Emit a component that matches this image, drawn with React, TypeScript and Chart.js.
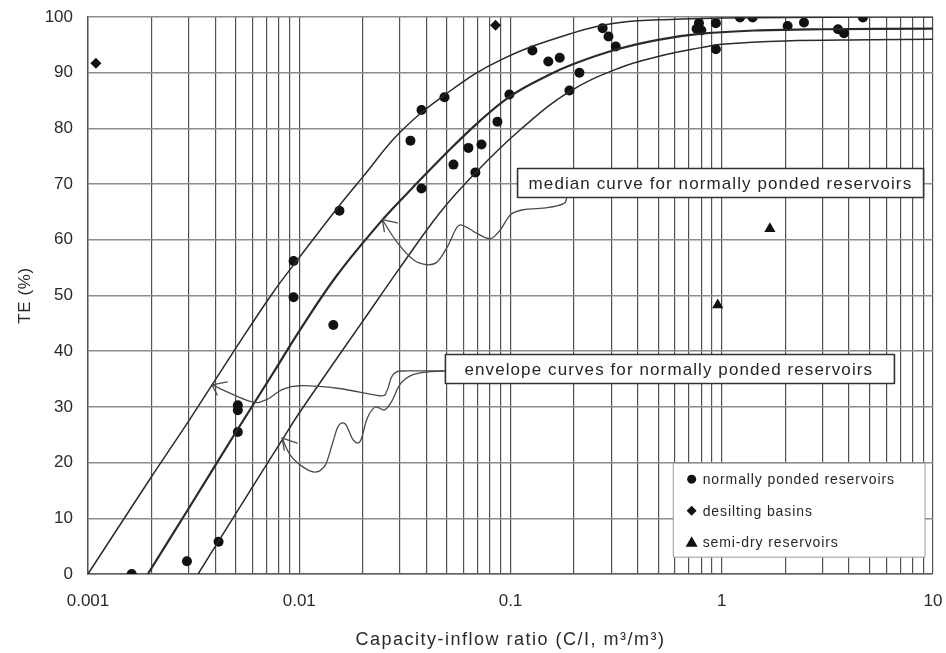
import { useEffect, useRef } from "react";
import { Chart, registerables } from "chart.js";

Chart.register(...registerables);

// Capacity-inflow ratio (C/I) and trap efficiency (TE, %) of the observed reservoirs
const pondedX = [0.00161, 0.00294, 0.00415, 0.00512, 0.00512, 0.00512, 0.0094, 0.0094, 0.0145, 0.0155, 0.0336, 0.0379, 0.0379, 0.0487, 0.0537, 0.0632, 0.0682, 0.0729, 0.0867, 0.0988, 0.127, 0.151, 0.171, 0.19, 0.212, 0.273, 0.291, 0.315, 0.76, 0.78, 0.8, 0.938, 0.938, 1.22, 1.4, 2.05, 2.45, 3.55, 3.79, 4.66];
const pondedY = [0, 2.3, 5.8, 25.5, 29.4, 30.3, 49.7, 56.2, 44.7, 65.2, 77.8, 83.3, 69.2, 85.6, 73.5, 76.5, 72.1, 77.1, 81.2, 86.1, 94.0, 92.0, 92.7, 86.8, 90.0, 98.0, 96.5, 94.7, 97.9, 98.9, 97.6, 98.9, 94.2, 99.9, 99.9, 98.4, 99.0, 97.8, 97.1, 99.9];

const desiltX = [0.00109, 0.0849];
const desiltY = [91.7, 98.5];

const semiDryX = [0.957, 1.69];
const semiDryY = [48.3, 62.0];

// Brune curves: upper envelope, median and lower envelope
const upperX = [0.001, 0.002, 0.003, 0.005, 0.0075, 0.01, 0.015, 0.02, 0.03, 0.05, 0.09, 0.2, 0.33, 0.6, 1, 2, 5, 10];
const upperY = [0, 17.5, 27.5, 40.5, 50.5, 56.8, 65.5, 71.3, 79.3, 86.3, 92.3, 97.2, 99.0, 99.6, 99.8, 99.9, 100, 100];

const medianX = [0.00192, 0.003, 0.005, 0.0075, 0.01, 0.015, 0.024, 0.03, 0.048, 0.07, 0.1, 0.15, 0.2, 0.32, 0.5, 0.8, 1.5, 3, 10];
const medianY = [0, 11.8, 25.4, 36, 43.6, 53.5, 63, 67, 75, 81, 85.8, 89.5, 91.6, 94.2, 95.9, 97.0, 97.6, 97.8, 97.9];

const lowerX = [0.00332, 0.005, 0.0084, 0.01, 0.015, 0.02, 0.03, 0.0466, 0.0685, 0.1115, 0.19, 0.33, 0.5, 0.8, 1, 2, 5, 10];
const lowerY = [0, 10.8, 24.4, 28.9, 38.6, 45.4, 55, 65, 72.1, 79.8, 86.6, 90.9, 92.9, 94.5, 95.1, 95.7, 95.9, 96];

// Axes
const xDecades = [0.001, 0.01, 0.1, 1];
const xMultipliers = [1, 2, 3, 4, 5, 6, 7, 8, 9];
const xMax = 10;
const xTickLabels = ["0.001", "0.01", "0.1", "1", "10"];
const yMin = 0;
const yMax = 100;
const yStep = 10;

const xTitle = "Capacity-inflow ratio (C/I, m\u00b3/m\u00b3)";
const yTitle = "TE (%)";

const legendLabels = ["normally ponded reservoirs", "desilting basins", "semi-dry reservoirs"];
const medianNote = "median curve for normally ponded reservoirs";
const envelopeNote = "envelope curves for normally ponded reservoirs";

// Callout leaders, as [log10(C/I), TE] pairs
const medianLeader = [
  [-1.6066, 63.62], [-1.5355, 59.48], [-1.4597, 56.42], [-1.3934, 55.52], [-1.346, 56.06],
  [-1.2986, 58.76], [-1.2512, 62.36], [-1.2133, 62.36], [-1.1564, 61.1], [-1.0948, 60.2],
  [-1.0474, 61.82], [-1.0, 64.51], [-0.9384, 65.41], [-0.8246, 65.77], [-0.7488, 66.49], [-0.7346, 67.39],
];
const medianBarbs = [[-1.5355, 63.05], [-1.5972, 61.46]];

const upperLeader = [
  [-2.4123, 33.94], [-2.2322, 31.0], [-2.1611, 31.2], [-2.0806, 33.1], [-2.0, 33.8],
  [-1.81, 33.3], [-1.62, 32.0], [-1.585, 32.9], [-1.565, 35.2], [-1.54, 36.3], [-1.49, 36.45], [-1.308, 36.45],
];
const upperBarbs = [[-2.3412, 34.48], [-2.3886, 32.14]];

const lowerLeader = [
  [-2.0806, 24.41], [-2.0427, 21.35], [-1.981, 19.19], [-1.9242, 18.29], [-1.8768, 19.55],
  [-1.8436, 23.33], [-1.8152, 26.56], [-1.782, 26.92], [-1.7441, 24.05], [-1.7109, 23.87],
  [-1.6777, 28.0], [-1.6398, 29.98], [-1.5972, 29.44], [-1.564, 30.88], [-1.5213, 34.12],
  [-1.4645, 35.74], [-1.3886, 36.3], [-1.308, 36.45],
];
const lowerBarbs = [[-2.0095, 23.51], [-2.0711, 22.25]];

// Box anchors (top-left corner) as [C/I, TE]
const medianBoxAt = [0.108, 72.8];
const envelopeBoxAt = [0.0492, 39.4];
const legendBoxAt = [0.592, 19.9];

const FONT = "'Liberation Sans', Arial, Helvetica, sans-serif";
const INK = "#262626";

type Pt = number[];

function smoothPath(ctx: CanvasRenderingContext2D, pts: Pt[]) {
  ctx.moveTo(pts[0][0], pts[0][1]);
  for (let i = 0; i < pts.length - 1; i++) {
    const p0 = pts[i - 1] || pts[i];
    const p1 = pts[i];
    const p2 = pts[i + 1];
    const p3 = pts[i + 2] || p2;
    ctx.bezierCurveTo(
      p1[0] + (p2[0] - p0[0]) / 6, p1[1] + (p2[1] - p0[1]) / 6,
      p2[0] - (p3[0] - p1[0]) / 6, p2[1] - (p3[1] - p1[1]) / 6,
      p2[0], p2[1]
    );
  }
}

const calloutPlugin = {
  id: "calloutPlugin",
  afterDatasetsDraw(chart: any) {
    const { ctx, scales, chartArea } = chart;
    const xs = scales.x;
    const ys = scales.y;
    const lp = (p: Pt): Pt => [xs.getPixelForValue(Math.pow(10, p[0])), ys.getPixelForValue(p[1])];
    const dp = (p: Pt): Pt => [xs.getPixelForValue(p[0]), ys.getPixelForValue(p[1])];

    ctx.save();
    ctx.lineCap = "round";
    ctx.lineJoin = "round";

    // leaders with open arrowheads
    const leaders: [Pt[], Pt[]][] = [
      [medianLeader, medianBarbs],
      [upperLeader, upperBarbs],
      [lowerLeader, lowerBarbs],
    ];
    ctx.strokeStyle = "#4a4a4a";
    ctx.lineWidth = 1.3;
    for (const [path, barbs] of leaders) {
      const pts = path.map(lp);
      ctx.beginPath();
      smoothPath(ctx, pts);
      ctx.stroke();
      const tip = pts[0];
      ctx.beginPath();
      for (const b of barbs) {
        const bp = lp(b);
        ctx.moveTo(tip[0], tip[1]);
        ctx.lineTo(bp[0], bp[1]);
      }
      ctx.stroke();
    }

    // text boxes
    const box = (at: Pt, text: string, padL: number, padR: number) => {
      ctx.font = `17px ${FONT}`;
      (ctx as any).letterSpacing = "1.1px";
      const w = ctx.measureText(text).width;
      const [bx, by] = dp(at);
      const bw = Math.round(w + padL + padR);
      const bh = 29;
      ctx.fillStyle = "#ffffff";
      ctx.fillRect(bx, by, bw, bh);
      ctx.strokeStyle = "#333333";
      ctx.lineWidth = 1.6;
      ctx.strokeRect(bx, by, bw, bh);
      ctx.fillStyle = INK;
      ctx.textAlign = "left";
      ctx.textBaseline = "middle";
      ctx.fillText(text, bx + padL, by + bh / 2 + 1);
    };
    box(medianBoxAt, medianNote, 11, 11);
    box(envelopeBoxAt, envelopeNote, 19, 21);

    // legend
    const [lx, ly] = dp(legendBoxAt);
    const lw = chartArea.right - 8 - lx;
    const lh = 94;
    ctx.fillStyle = "#ffffff";
    ctx.fillRect(lx, ly, lw, lh);
    ctx.strokeStyle = "#9a9a9a";
    ctx.lineWidth = 1;
    ctx.strokeRect(lx, ly, lw, lh);
    ctx.font = `14px ${FONT}`;
    (ctx as any).letterSpacing = "0.9px";
    ctx.textAlign = "left";
    ctx.textBaseline = "middle";
    legendLabels.forEach((label, i) => {
      const cy = ly + 16 + i * 31.5;
      const cx = lx + 18;
      ctx.fillStyle = "#111111";
      ctx.beginPath();
      if (i === 0) {
        ctx.arc(cx, cy, 4.5, 0, Math.PI * 2);
      } else if (i === 1) {
        ctx.moveTo(cx, cy - 5);
        ctx.lineTo(cx + 5, cy);
        ctx.lineTo(cx, cy + 5);
        ctx.lineTo(cx - 5, cy);
        ctx.closePath();
      } else {
        ctx.moveTo(cx, cy - 6);
        ctx.lineTo(cx + 6, cy + 4.5);
        ctx.lineTo(cx - 6, cy + 4.5);
        ctx.closePath();
      }
      ctx.fill();
      ctx.fillStyle = INK;
      ctx.fillText(label, cx + 11, cy + 1);
    });

    // axis titles
    ctx.fillStyle = "#2a2a2a";
    ctx.font = `18px ${FONT}`;
    (ctx as any).letterSpacing = "1.5px";
    ctx.textAlign = "center";
    ctx.textBaseline = "middle";
    ctx.fillText(xTitle, (chartArea.left + chartArea.right) / 2, 640);

    ctx.translate(25, (chartArea.top + chartArea.bottom) / 2);
    ctx.rotate(-Math.PI / 2);
    ctx.font = `17px ${FONT}`;
    (ctx as any).letterSpacing = "0.6px";
    ctx.fillText(yTitle, 0, 0);

    ctx.restore();
  },
};

const xGridValues = [...xDecades.flatMap((d) => xMultipliers.map((m) => +(d * m).toPrecision(6))), xMax];

function toPoints(xs: number[], ys: number[]) {
  return xs.map((x, i) => ({ x, y: ys[i] }));
}

export default function App() {
  const canvasRef = useRef<HTMLCanvasElement | null>(null);

  useEffect(() => {
    document.body.style.margin = "0";
    const canvas = canvasRef.current;
    if (!canvas) return;

    const curve = (label: string, xs: number[], ys: number[], width: number) => ({
      label,
      data: toPoints(xs, ys),
      showLine: true,
      borderColor: "#2a2a2a",
      borderWidth: width,
      pointRadius: 0,
      tension: 0.4,
      fill: false,
    });

    const chart = new Chart(canvas, {
      type: "scatter",
      data: {
        datasets: [
          curve("upper envelope", upperX, upperY, 1.5),
          curve("median", medianX, medianY, 2.2),
          curve("lower envelope", lowerX, lowerY, 1.5),
          {
            label: legendLabels[0],
            data: toPoints(pondedX, pondedY),
            pointStyle: "circle",
            pointRadius: 5,
            backgroundColor: "#111111",
            borderColor: "#111111",
            borderWidth: 0,
          },
          {
            label: legendLabels[1],
            data: toPoints(desiltX, desiltY),
            pointStyle: "rectRot",
            pointRadius: 5.5,
            backgroundColor: "#111111",
            borderColor: "#111111",
            borderWidth: 0,
          },
          {
            label: legendLabels[2],
            data: toPoints(semiDryX, semiDryY),
            pointStyle: "triangle",
            pointRadius: 6.5,
            backgroundColor: "#111111",
            borderColor: "#111111",
            borderWidth: 0,
          },
        ],
      },
      options: {
        animation: false,
        responsive: true,
        maintainAspectRatio: false,
        layout: { padding: { top: 17, right: 13, bottom: 0, left: 0 } },
        plugins: {
          legend: { display: false },
          tooltip: { enabled: false },
        },
        scales: {
          x: {
            type: "logarithmic",
            min: xDecades[0],
            max: xMax,
            afterBuildTicks: (scale: any) => {
              scale.ticks = xGridValues.map((v) => ({ value: v }));
            },
            afterFit: (scale: any) => {
              scale.height = 79;
              scale.paddingLeft = 0;
              scale.paddingRight = 0;
            },
            grid: {
              color: "#505050",
              lineWidth: 1.2,
              drawTicks: false,
            },
            border: { display: true, color: "#606060", width: 1.4 },
            ticks: {
              autoSkip: false,
              maxRotation: 0,
              padding: 17,
              color: "#2a2a2a",
              font: { family: FONT, size: 17 },
              callback: (v: any) => {
                const l = Math.log10(Number(v));
                const r = Math.round(l);
                return Math.abs(l - r) < 1e-6 ? xTickLabels[r + 3] : "";
              },
            },
          },
          y: {
            type: "linear",
            min: yMin,
            max: yMax,
            afterFit: (scale: any) => {
              scale.width = 88;
              scale.paddingTop = 0;
              scale.paddingBottom = 0;
            },
            grid: {
              color: "#8c8c8c",
              lineWidth: 1.6,
              drawTicks: false,
            },
            border: { display: true, color: "#505050", width: 1.4 },
            ticks: {
              stepSize: yStep,
              padding: 15,
              color: "#2a2a2a",
              font: { family: FONT, size: 17 },
            },
          },
        },
      },
      plugins: [calloutPlugin],
    });

    return () => chart.destroy();
  }, []);

  return (
    <div style={{ width: 946, height: 653, position: "relative", background: "#ffffff" }}>
      <canvas ref={canvasRef} />
    </div>
  );
}
